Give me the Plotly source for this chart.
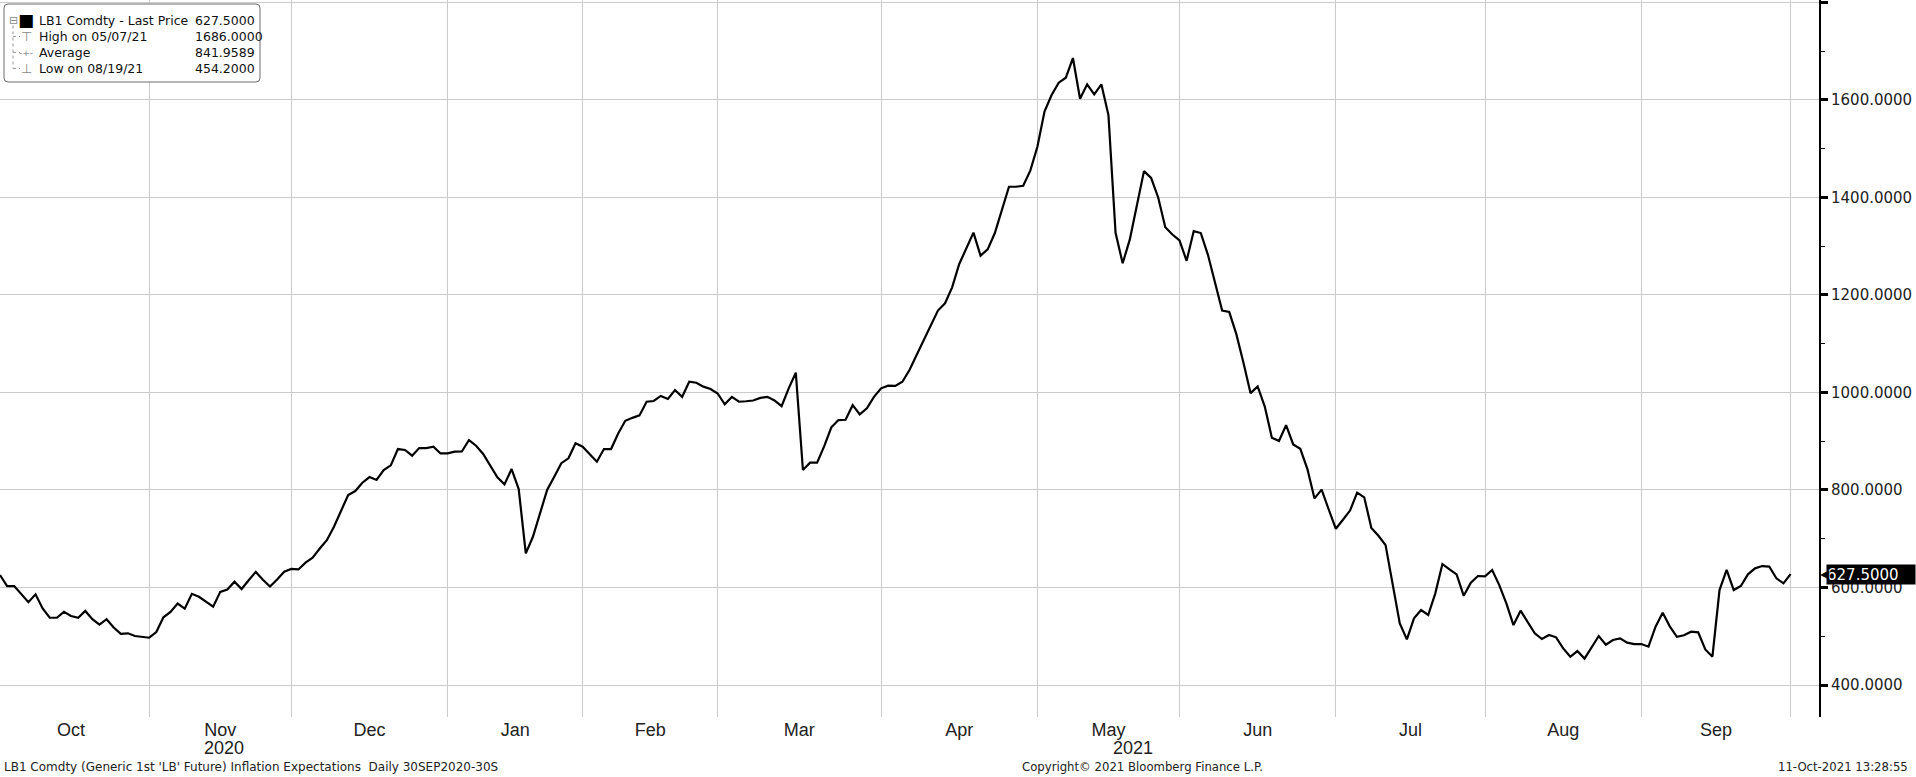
import math
import pandas as pd
import plotly.graph_objects as go

# ---------------- data (LB1 Comdty, daily close) ----------------
HOLIDAYS = ["2020-11-26", "2020-12-25", "2021-01-01", "2021-01-18",
            "2021-02-15", "2021-05-31", "2021-07-05", "2021-09-06"]
START_DATE = "2020-10-01"
END_DATE = "2021-09-30"

oct_2020 = [625.6, 603.0, 603.0, 586.0, 570.0, 586.0, 557.0, 538.0, 538.0, 550.0, 541.5,
            538.0, 552.0, 535.0, 524.0, 535.0, 518.0, 505.0, 506.0, 500.5, 499.0, 497.0]
nov_2020 = [508.7, 539.0, 550.0, 567.0, 556.5, 587.0, 581.0, 571.0, 560.6, 591.0,
            596.0, 612.0, 597.0, 615.0, 632.0, 616.0, 602.0, 616.5, 632.5, 638.0]
dec_2020 = [637.0, 651.0, 661.0, 680.0, 697.0, 724.8, 755.5, 789.7, 797.9, 815.0, 826.6,
            820.5, 841.0, 850.6, 884.0, 882.0, 870.4, 886.0, 886.0, 888.8, 875.0, 875.0]
jan_2021 = [878.5, 879.0, 902.5, 890.8, 873.8, 850.6, 826.0, 811.6, 843.0, 802.0,
            670.0, 704.0, 752.0, 800.0, 827.0, 855.0, 865.0, 895.7, 888.8]
feb_2021 = [873.8, 858.0, 884.0, 884.0, 916.0, 942.0, 948.0, 953.0, 981.0, 982.5,
            993.0, 986.6, 1005.0, 991.0, 1022.0, 1020.0, 1012.0, 1007.0, 998.0]
mar_2021 = [975.7, 991.0, 981.0, 982.0, 983.6, 989.0, 991.0, 983.6, 972.0, 1008.5, 1040.6,
            841.0, 856.0, 856.0, 890.0, 928.5, 943.5, 944.0, 974.0, 955.0, 967.5, 991.0, 1008.5]
apr_2021 = [1014.0, 1013.6, 1022.0, 1046.0, 1077.0, 1107.6, 1135.0, 1168.0, 1183.0, 1215.6, 1263.5,
            1295.6, 1327.8, 1280.6, 1293.6, 1326.5, 1372.9, 1422.0, 1422.0, 1424.0, 1455.0, 1504.0]
may_2021 = [1576.0, 1610.0, 1635.5, 1645.6, 1686.0, 1602.5, 1632.0, 1611.5, 1632.0, 1569.0,
            1327.5, 1265.0, 1313.5, 1386.0, 1454.0, 1440.0, 1400.0, 1339.0, 1324.0, 1312.0]
jun_2021 = [1270.0, 1331.0, 1327.0, 1282.4, 1223.5, 1168.0, 1165.0, 1119.7, 1061.0, 998.6, 1012.5,
            971.0, 907.3, 900.4, 933.0, 893.5, 884.5, 843.0, 782.7, 800.7, 760.0, 720.5]
jul_2021 = [739.0, 757.8, 794.5, 785.0, 722.0, 706.0, 687.0, 608.0, 526.5, 493.7, 536.8,
            553.8, 543.6, 588.0, 648.0, 637.0, 627.0, 583.0, 610.0, 623.6, 623.0]
aug_2021 = [635.9, 605.0, 567.5, 523.0, 552.5, 527.9, 506.0, 494.3, 502.6, 497.8, 475.2,
            458.0, 469.7, 454.2, 477.3, 500.5, 482.7, 492.3, 495.7, 486.8, 484.0, 484.0]
sep_2021 = [478.6, 519.6, 548.3, 520.3, 499.0, 502.0, 509.4, 508.0, 473.0, 458.0, 594.8,
            636.0, 594.8, 603.0, 627.0, 639.3, 644.0, 643.0, 618.8, 608.5, 627.5]

Y_TICKS = [400, 600, 800, 1000, 1200, 1400, 1600, 1800]
Y_TICK_TEXT = ["400.0000", "600.0000", "800.0000", "1000.0000", "1200.0000",
               "1400.0000", "1600.0000", ""]

LEGEND_LABELS = ["LB1 Comdty - Last Price", "High on 05/07/21", "Average", "Low on 08/19/21"]
LEGEND_VALUES = ["627.5000", "1686.0000", "841.9589", "454.2000"]
LAST_PRICE = 627.5
LAST_PRICE_TEXT = "627.5000"

FOOTER_LEFT = "LB1 Comdty (Generic 1st 'LB' Future) Inflation Expectations  Daily 30SEP2020-30S"
FOOTER_MID = "Copyright\u00a9 2021 Bloomberg Finance L.P."
FOOTER_RIGHT = "11-Oct-2021 13:28:55"

# ---------------- assemble ----------------
values = (oct_2020 + nov_2020 + dec_2020 + jan_2021 + feb_2021 + mar_2021 +
          apr_2021 + may_2021 + jun_2021 + jul_2021 + aug_2021 + sep_2021)
hol = pd.to_datetime(HOLIDAYS)
dates = pd.bdate_range(START_DATE, END_DATE)
dates = dates[~dates.isin(hol)]
assert len(dates) == len(values), (len(dates), len(values))

PAD_DAYS = 4
extra = pd.bdate_range(dates[-1] + pd.offsets.BDay(1), periods=PAD_DAYS)
dates_ext = dates.append(extra)
range_end = dates_ext[-1]


def idx_to_date(f):
    i = int(math.floor(f))
    frac = f - i
    return dates_ext[i] + pd.Timedelta(days=frac)


# month boundaries: last trading day of each month
s = pd.Series(range(len(dates)), index=dates)
month_last_idx = s.groupby([dates.year, dates.month]).max().tolist()
grid_dates = [dates[i] for i in month_last_idx]
label_pos, label_txt = [], []
prev = -1
for li in month_last_idx:
    label_pos.append(idx_to_date((prev + li) / 2))
    label_txt.append(dates[li].strftime("%b"))
    prev = li

dec_end_idx = [i for i in month_last_idx if dates[i].year == 2020][-1]
last_idx = len(dates_ext) - 1
year_labels = [("2020", idx_to_date((0 + dec_end_idx) / 2)),
               ("2021", idx_to_date((dec_end_idx + last_idx) / 2))]

# ---------------- figure ----------------
W, H = 1916, 777
ML, MR, MT, MB = 0, 97, 0, 60
PW, PH = W - ML - MR, H - MT - MB


def px(xp):
    return xp / PW


def py(yp):
    return 1 - yp / PH


fig = go.Figure()
fig.add_trace(go.Scatter(x=dates, y=values, mode="lines",
                         line=dict(color="black", width=2.2), hoverinfo="x+y",
                         showlegend=False))

GRID = "#cbcbcb"
fig.update_layout(
    width=W, height=H,
    margin=dict(l=ML, r=MR, t=MT, b=MB, pad=0, autoexpand=False),
    paper_bgcolor="white", plot_bgcolor="white",
    showlegend=False,
    xaxis=dict(
        type="date", automargin=False,
        range=[dates[0], range_end],
        rangebreaks=[dict(bounds=["sat", "mon"]), dict(values=HOLIDAYS)],
        tickmode="array", tickvals=label_pos, ticktext=label_txt,
        ticks="", showgrid=False, zeroline=False, showline=False,
        tickfont=dict(family="Liberation Sans, Arial, sans-serif", size=18, color="#222"),
        minor=dict(tickmode="array", tickvals=grid_dates, showgrid=True,
                   gridcolor=GRID, gridwidth=1, ticks=""),
    ),
    yaxis=dict(
        side="right", range=[334.4, 1805], automargin=False,
        tickmode="array", tickvals=Y_TICKS, ticktext=Y_TICK_TEXT,
        ticks="outside", ticklen=7, tickwidth=3, tickcolor="black",
        showgrid=True, gridcolor=GRID, gridwidth=1, zeroline=False,
        showline=True, linecolor="black", linewidth=2,
        tickfont=dict(family="DejaVu Sans", size=15, color="#222"),
        minor=dict(dtick=100, ticks="outside", ticklen=4, tickwidth=1,
                   tickcolor="black", showgrid=False),
    ),
)

# year labels under the month labels
for txt, d in year_labels:
    fig.add_annotation(x=d, xref="x", y=0, yref="paper", yshift=-31,
                       text=txt, showarrow=False, xanchor="center", yanchor="middle",
                       font=dict(family="Liberation Sans, Arial, sans-serif", size=18, color="#222"))

# footer
FOOT_FONT = dict(family="DejaVu Sans", size=12, color="#222")
fig.add_annotation(x=px(2), xref="paper", y=0, yref="paper", yshift=-50, text=FOOTER_LEFT,
                   showarrow=False, xanchor="left", yanchor="middle", font=FOOT_FONT)
fig.add_annotation(x=px(1020), xref="paper", y=0, yref="paper", yshift=-50, text=FOOTER_MID,
                   showarrow=False, xanchor="left", yanchor="middle",
                   font=dict(family="DejaVu Sans", size=11.7, color="#222"))
fig.add_annotation(x=px(1910), xref="paper", y=0, yref="paper", yshift=-50, text=FOOTER_RIGHT,
                   showarrow=False, xanchor="right", yanchor="middle",
                   font=dict(family="DejaVu Sans", size=11.7, color="#222"))

# last price tag
fig.add_annotation(x=1, xref="paper", y=LAST_PRICE, yref="y", xshift=7,
                   text=LAST_PRICE_TEXT, showarrow=False, xanchor="left", yanchor="middle",
                   bgcolor="black", width=88, height=19, align="left", borderpad=0,
                   font=dict(family="DejaVu Sans", size=15, color="white"))
fig.add_annotation(x=1, xref="paper", y=LAST_PRICE, yref="y", xshift=-1,
                   text="\u25c0", showarrow=False, xanchor="left", yanchor="middle",
                   font=dict(family="DejaVu Sans", size=12, color="black"))

# legend box (Bloomberg style)
x0, x1, y0, y1, r = 4, 260, 4, 82, 4
path = (f"M {px(x0 + r)},{py(y0)} L {px(x1 - r)},{py(y0)} Q {px(x1)},{py(y0)} {px(x1)},{py(y0 + r)} "
        f"L {px(x1)},{py(y1 - r)} Q {px(x1)},{py(y1)} {px(x1 - r)},{py(y1)} "
        f"L {px(x0 + r)},{py(y1)} Q {px(x0)},{py(y1)} {px(x0)},{py(y1 - r)} "
        f"L {px(x0)},{py(y0 + r)} Q {px(x0)},{py(y0)} {px(x0 + r)},{py(y0)} Z")
fig.add_shape(type="path", path=path, xref="paper", yref="paper",
              line=dict(color="#6d6d6d", width=1), fillcolor="white", layer="above")

rows_y = [20.5, 36.5, 52.5, 68.5]
# tree connector
fig.add_shape(type="line", xref="paper", yref="paper", x0=px(13), x1=px(13),
              y0=py(rows_y[0] + 5), y1=py(rows_y[3]), line=dict(color="#9a9a9a", width=1, dash="dot"),
              layer="above")
for ry in rows_y[1:]:
    fig.add_shape(type="line", xref="paper", yref="paper", x0=px(13), x1=px(20),
                  y0=py(ry), y1=py(ry), line=dict(color="#9a9a9a", width=1, dash="dot"),
                  layer="above")

LEG_FONT = dict(family="DejaVu Sans", size=12.5, color="#111")
icons = [("\u22a4", "#8a8a8a", 13, 26), ("-+-", "#8a8a8a", 9, 26), ("\u22a5", "#8a8a8a", 13, 26)]
fig.add_annotation(x=px(26), xref="paper", y=py(rows_y[0]), yref="paper", text="\u25a0",
                   showarrow=False, xanchor="center", yanchor="middle",
                   font=dict(family="DejaVu Sans", size=17, color="black"))
fig.add_annotation(x=px(13), xref="paper", y=py(rows_y[0]), yref="paper", text="\u229f",
                   showarrow=False, xanchor="center", yanchor="middle",
                   font=dict(family="DejaVu Sans", size=11, color="#8a8a8a"))
for (sym, col, sz, xx), ry in zip(icons, rows_y[1:]):
    fig.add_annotation(x=px(xx), xref="paper", y=py(ry), yref="paper", text=sym,
                       showarrow=False, xanchor="center", yanchor="middle",
                       font=dict(family="DejaVu Sans", size=sz, color=col))
for lab, val, ry in zip(LEGEND_LABELS, LEGEND_VALUES, rows_y):
    fig.add_annotation(x=px(37), xref="paper", y=py(ry), yref="paper", text=lab,
                       showarrow=False, xanchor="left", yanchor="middle", font=LEG_FONT)
    fig.add_annotation(x=px(193), xref="paper", y=py(ry), yref="paper", text=val,
                       showarrow=False, xanchor="left", yanchor="middle", font=LEG_FONT)

fig.write_html("out.html",
               config={"displayModeBar": False},
               post_script="document.body.style.margin='0px';document.body.style.padding='0px';")
